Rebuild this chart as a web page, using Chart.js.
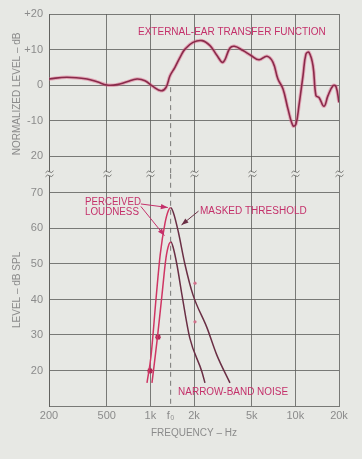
<!DOCTYPE html>
<html>
<head>
<meta charset="utf-8">
<script src="https://cdn.jsdelivr.net/npm/chart.js@4.4.1/dist/chart.umd.min.js"></script>
<style>
  html, body { margin: 0; padding: 0; background: #e7e8e4; }
  #wrap { width: 362px; height: 459px; }
</style>
</head>
<body>
<div id="wrap"><canvas id="c" width="362" height="459"></canvas></div>
<script>
// ---------- data ----------
const F0 = 1380;

// upper panel: external-ear transfer function (Hz / dB normalized)
const earFreq  = [200, 266, 366, 429, 502, 589, 690, 809, 918, 1042,
                  1184, 1282, 1366, 1478, 1626, 1734, 1968, 2272, 2578, 2882,
                  3170, 3540, 3800, 4356, 4943, 5612, 6374, 7010, 7580, 8220,
                  8900, 9640, 10100, 10590, 11290, 11830, 12420, 13240, 13870, 14560,
                  15760, 16790, 18180, 19060, 20000];
const earLevel = [1.7, 2.2, 1.7, 0.9, 0.0, 0.1, 0.9, 1.7, 1.2, -0.4,
                  -1.6, -0.7, 2.6, 5.0, 8.3, 10.1, 12.0, 12.5, 11.1, 8.3,
                  6.4, 10.4, 10.9, 9.7, 8.3, 7.1, 8.1, 6.4, 1.7, -1.1,
                  -6.8, -11.5, -11.0, -5.8, 2.6, 8.7, 9.2, 5.4, -3.0, -3.5,
                  -6.0, -3.0, -0.2, -0.4, -4.9];

// lower panel (Hz / dB SPL)
const maskFreq   = [948, 1010, 1097, 1170, 1262, 1330, 1380, 1440, 1560, 1730, 1968, 2460, 2870, 3540];
const maskLevel  = [16.5, 24.0, 40.7, 52.7, 61.5, 65.0, 65.8, 64.5, 59.0, 50.0, 41.3, 32.0, 24.4, 16.5];
const noiseFreq  = [1026, 1114, 1203, 1282, 1346, 1388, 1440, 1530, 1652, 1870, 2270, 2380];
const noiseLevel = [16.5, 28.6, 41.3, 51.7, 55.6, 56.2, 54.5, 49.5, 41.3, 29.2, 19.6, 16.5];
const loudFreq   = [995, 1129];
const loudLevel  = [19.9, 29.4];
const dotFreq    = [2032, 2032];
const dotLevel   = [44.6, 33.7];

// axes
const xTickValues   = [200, 500, 1000, F0, 2000, 5000, 10000, 20000];
const xTickLabels   = ["200", "500", "1k", "f\u2080", "2k", "5k", "10k", "20k"];
const topTickValues = [20, 10, 0, -10, -20];
const topTickLabels = ["+20", "+10", "0", "-10", "20"];
const botTickValues = [20, 30, 40, 50, 60, 70];
const botTickLabels = ["20", "30", "40", "50", "60", "70"];

// ---------- style ----------
const GRID  = "rgba(92,92,90,0.8)";
const TXT   = "#8b8b8b";
const RED   = "#c4306a";
const PINK  = "#cf3563";
const DARK  = "#6a2f45";
const LABEL_FONT = '10px "Liberation Sans", Arial, sans-serif';

const pts = (xs, ys) => xs.map((x, i) => ({ x, y: ys[i] }));
const sideColor = ctx => ctx.p1.parsed.x > F0 + 20 ? DARK : PINK;

// ---------- annotations / break marks ----------
function arrow(ctx, x1, y1, x2, y2) {
  ctx.beginPath(); ctx.moveTo(x1, y1); ctx.lineTo(x2, y2); ctx.stroke();
  const a = Math.atan2(y2 - y1, x2 - x1), L = 7, W = 2.6;
  ctx.beginPath();
  ctx.moveTo(x2, y2);
  ctx.lineTo(x2 - L * Math.cos(a) + W * Math.sin(a), y2 - L * Math.sin(a) - W * Math.cos(a));
  ctx.lineTo(x2 - L * Math.cos(a) - W * Math.sin(a), y2 - L * Math.sin(a) + W * Math.cos(a));
  ctx.closePath(); ctx.fill();
}

const notes = {
  id: "notes",
  afterDraw(chart) {
    const { ctx } = chart;
    const x = chart.scales.x, yt = chart.scales.yTop, yb = chart.scales.yBot;
    ctx.save();

    // axis break marks between panels
    const by = yt.bottom;
    ctx.strokeStyle = GRID; ctx.lineWidth = 1;
    xTickValues.filter(v => v !== F0).forEach(v => {
      const px = Math.round(x.getPixelForValue(v)) + 0.5;
      ctx.fillStyle = "#e7e8e4";
      ctx.fillRect(px - 4, by - 2, 8, 4);
      [-2, 2].forEach(d => {
        ctx.beginPath();
        ctx.moveTo(px - 4, by + d + 1);
        ctx.quadraticCurveTo(px - 2, by + d - 2, px, by + d);
        ctx.quadraticCurveTo(px + 2, by + d + 2, px + 4, by + d - 1);
        ctx.stroke();
      });
    });

    ctx.fillStyle = RED; ctx.strokeStyle = RED;
    ctx.font = LABEL_FONT; ctx.textBaseline = "middle"; ctx.textAlign = "left";
    ctx.fillText("EXTERNAL-EAR TRANSFER FUNCTION", x.getPixelForValue(822), yt.getPixelForValue(14.9), 191);
    ctx.fillText("PERCEIVED", x.getPixelForValue(354), yb.getPixelForValue(67.3), 56);
    ctx.fillText("LOUDNESS", x.getPixelForValue(354), yb.getPixelForValue(64.5), 54);
    ctx.fillText("MASKED THRESHOLD", x.getPixelForValue(2200), yb.getPixelForValue(64.9), 107);
    ctx.fillText("NARROW-BAND NOISE", x.getPixelForValue(1554), yb.getPixelForValue(13.9), 110);

    ctx.lineWidth = 1;
    arrow(ctx, x.getPixelForValue(860), yb.getPixelForValue(66.9), x.getPixelForValue(1320), yb.getPixelForValue(65.9));
    arrow(ctx, x.getPixelForValue(860), yb.getPixelForValue(66.2), x.getPixelForValue(1250), yb.getPixelForValue(58.0));
    ctx.strokeStyle = DARK; ctx.fillStyle = DARK;
    arrow(ctx, x.getPixelForValue(2150), yb.getPixelForValue(64.9), x.getPixelForValue(1640), yb.getPixelForValue(61.0));
    ctx.restore();
  }
};

// ---------- chart ----------
const tickFont = { family: '"Liberation Sans", Arial, sans-serif', size: 11 };
const titleFont = { family: '"Liberation Sans", Arial, sans-serif', size: 10 };

new Chart(document.getElementById("c"), {
  type: "line",
  data: {
    datasets: [
      { // pink halo of the ear curve
        data: pts(earFreq, earLevel), yAxisID: "yTop",
        borderColor: "rgba(222,90,130,0.45)", borderWidth: 3.5,
        pointRadius: 0, tension: 0.4, order: 2
      },
      {
        data: pts(earFreq, earLevel), yAxisID: "yTop",
        borderColor: "#8a2a4a", borderWidth: 1.6,
        pointRadius: 0, tension: 0.4, order: 1
      },
      { // f0 marker, upper part
        data: [{ x: F0, y: -0.6 }, { x: F0, y: -25 }], yAxisID: "yTop",
        borderColor: GRID, borderWidth: 1, borderDash: [5, 4], pointRadius: 0
      },
      { // f0 marker, lower part
        data: [{ x: F0, y: 75.4 }, { x: F0, y: 10 }], yAxisID: "yBot",
        borderColor: GRID, borderWidth: 1, borderDash: [5, 4], pointRadius: 0
      },
      {
        data: pts(maskFreq, maskLevel), yAxisID: "yBot",
        borderColor: PINK, borderWidth: 1.5, pointRadius: 0,
        cubicInterpolationMode: "monotone",
        segment: { borderColor: sideColor }
      },
      {
        data: pts(noiseFreq, noiseLevel), yAxisID: "yBot",
        borderColor: PINK, borderWidth: 1.5, pointRadius: 0,
        cubicInterpolationMode: "monotone",
        segment: { borderColor: sideColor }
      },
      {
        data: pts(loudFreq, loudLevel), yAxisID: "yBot", showLine: false,
        pointStyle: "star", pointRadius: 3, borderWidth: 1.2,
        borderColor: "#b0204f", backgroundColor: "#b0204f"
      },
      {
        data: pts(dotFreq, dotLevel), yAxisID: "yBot", showLine: false,
        pointRadius: 1.6, borderWidth: 0, backgroundColor: "#d0708a"
      }
    ]
  },
  options: {
    responsive: false,
    animation: false,
    devicePixelRatio: 1,
    layout: { padding: { top: 14, right: 23, left: 0, bottom: 0 } },
    plugins: { legend: { display: false }, tooltip: { enabled: false } },
    scales: {
      x: {
        type: "logarithmic", min: 200, max: 20000,
        afterBuildTicks: s => { s.ticks = xTickValues.map(v => ({ value: v })); },
        afterFit: s => { s.height = 53; },
        ticks: {
          autoSkip: false, maxRotation: 0, padding: 3, color: TXT, font: tickFont,
          callback: (v, i) => xTickLabels[i]
        },
        grid: {
          drawTicks: false, lineWidth: 1,
          color: c => (c.tick && c.tick.value === F0) ? "rgba(0,0,0,0)" : GRID
        },
        border: { display: true, color: GRID },
        title: {
          display: true, text: "FREQUENCY \u2013 Hz", color: TXT, font: titleFont,
          padding: { top: 0, bottom: 20 }
        }
      },
      // stacked left axes: the one listed first ends up at the bottom
      yBot: {
        type: "linear", position: "left", stack: "lvl", stackWeight: 65.4,
        min: 10, max: 75.4,
        afterBuildTicks: s => { s.ticks = botTickValues.map(v => ({ value: v })); },
        afterFit: s => { s.width = 49; },
        ticks: { padding: 6, color: TXT, font: tickFont, callback: (v, i) => botTickLabels[i] },
        grid: { drawTicks: false, color: GRID },
        border: { display: true, color: GRID },
        title: {
          display: true, text: "LEVEL \u2013 dB SPL", color: TXT, font: titleFont,
          padding: { top: 11, bottom: 0 }
        }
      },
      yTop: {
        type: "linear", position: "left", stack: "lvl", stackWeight: 45,
        min: -25, max: 20,
        afterBuildTicks: s => { s.ticks = topTickValues.map(v => ({ value: v })); },
        afterFit: s => { s.width = 49; },
        ticks: { padding: 6, color: TXT, font: tickFont, callback: (v, i) => topTickLabels[i] },
        grid: { drawTicks: false, color: GRID },
        border: { display: true, color: GRID },
        title: {
          display: true, text: "NORMALIZED LEVEL \u2013 dB", color: TXT, font: titleFont,
          padding: { top: 11, bottom: 0 }
        }
      }
    }
  },
  plugins: [notes]
});
</script>
</body>
</html>
